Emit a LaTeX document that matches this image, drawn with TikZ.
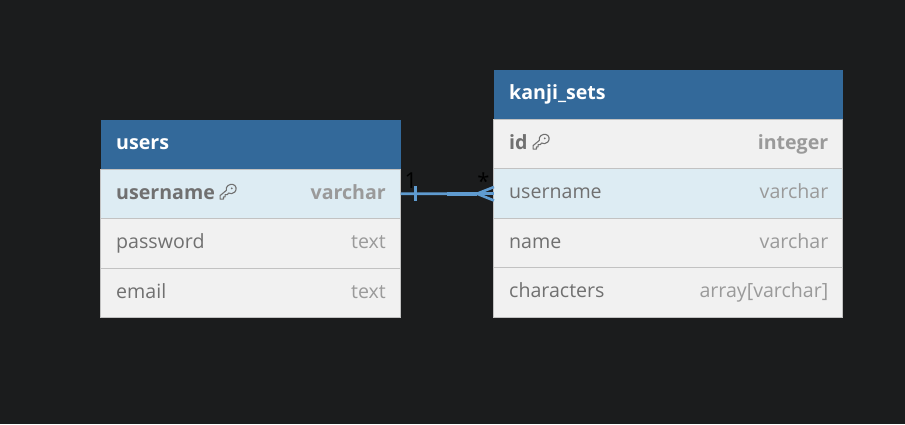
\documentclass[tikz,border=0pt]{standalone}
\usepackage{fontspec}
\setmainfont{Open Sans}
\definecolor{bgc}{HTML}{1B1C1D}
\definecolor{headc}{HTML}{33699A}
\definecolor{rowc}{HTML}{F1F1F1}
\definecolor{hlc}{HTML}{DDECF3}
\definecolor{linec}{HTML}{C2C2C2}
\definecolor{namec}{HTML}{707070}
\definecolor{typec}{HTML}{9A9A9A}
\definecolor{wirec}{HTML}{5F9BD0}
\tikzset{
  x=1pt,y=-1pt,
  cell/.style={draw=linec,line width=1pt,anchor=north west,inner sep=0pt,outer sep=0pt},
  head/.style={fill=headc,draw=none,anchor=north west,inner sep=0pt,outer sep=0pt},
  title/.style={anchor=base west,inner sep=0pt,text=white,font=\fontsize{19.6}{24}\selectfont\bfseries},
  fname/.style={anchor=base west,inner sep=0pt,text=namec,font=\fontsize{19.6}{24}\selectfont},
  fbold/.style={fname,font=\fontsize{19.6}{24}\selectfont\bfseries},
  ftype/.style={anchor=base east,inner sep=0pt,text=typec,font=\fontsize{19.6}{24}\selectfont},
  fbtype/.style={ftype,font=\fontsize{19.6}{24}\selectfont\bfseries},
  card/.style={inner sep=0pt,text=black,font=\fontsize{22}{26}\selectfont},
  wire/.style={draw=wirec,line width=2.6pt},
  wirethick/.style={draw=wirec,line width=3.6pt},
  keyicon/.pic={
    \draw[namec,line width=1.1pt,line join=round,xscale=1.13,yscale=1.02]
      (-7,7) -- (-7,3.5) -- (-1.5,-1.5) .. controls (-2.5,-6) and (2,-8) .. (4,-7.5)
      .. controls (7.5,-7) and (8,-2) .. (6,0) .. controls (4.5,2) and (2,2) .. (0.5,1)
      -- (-0.5,2.5) -- (-2.5,2.5) -- (-2.5,4.8) -- (-4,4.8) -- (-4,7) -- cycle;
    \fill[namec] (3.8,-3.6) circle (1pt);
  }
}
\begin{document}
\begin{tikzpicture}
\useasboundingbox (0,0) rectangle (905,424);
\fill[bgc] (0,0) rectangle (905,424);

% users
\node[head,minimum width=300pt,minimum height=49pt] (uh) at (100.5,120) {};
\node[cell,fill=hlc,minimum width=300pt,minimum height=49.5pt] (u1) at (100.5,169) {};
\node[cell,fill=rowc,minimum width=300pt,minimum height=49.5pt] (u2) at (100.5,218.5) {};
\node[cell,fill=rowc,minimum width=300pt,minimum height=49.5pt] (u3) at (100.5,268) {};
\node[title] (ut) at (116,149) {users};
\node[fbold] (un) at (116,199) {username};
\pic at (228,192) {keyicon};
\node[fbtype] (unt) at (386,199) {varchar};
\node[fname] (up) at (116,248) {password};
\node[ftype] (upt) at (386,248) {text};
\node[fname] (ue) at (116,298) {email};
\node[ftype] (uet) at (386,298) {text};

% kanji_sets
\node[head,minimum width=349.5pt,minimum height=49.5pt] (kh) at (493.5,70) {};
\node[cell,fill=rowc,minimum width=349pt,minimum height=49.5pt] (k1) at (493.5,119) {};
\node[cell,fill=hlc,minimum width=349pt,minimum height=49.5pt] (k2) at (493.5,168.5) {};
\node[cell,fill=rowc,minimum width=349pt,minimum height=49.5pt] (k3) at (493.5,218) {};
\node[cell,fill=rowc,minimum width=349pt,minimum height=49.5pt] (k4) at (493.5,267.5) {};
\node[title] (kt) at (509,99) {kanji\_sets};
\node[fbold] (ki) at (509,149) {id};
\pic at (541,142) {keyicon};
\node[fbtype] (kit) at (828.5,149) {integer};
\node[fname] (ku) at (509,198) {username};
\node[ftype] (kut) at (828.5,198) {varchar};
\node[fname] (kn) at (509,248) {name};
\node[ftype] (knt) at (828.5,248) {varchar};
\node[fname] (kc) at (509,297) {characters};
\node[ftype] (kct) at (828.5,297) {array[varchar]};

% connector
\coordinate (ws) at (u1.east);
\coordinate (we) at (494,193.7);
\coordinate (wm) at (447,193.7);
\coordinate (apex) at (477,193.7);
\draw[wire] (ws) -- (wm);
\draw[wirethick] (wm) -- (apex);
\draw[wire] (415.5,186) -- (415.5,200.5);
\draw[wire] (apex) -- (494,187);
\draw[wire] (apex) -- (we);
\draw[wire] (apex) -- (494,200.5);
\node[card] (c1) at (411,181) {1};
\node[card] (c2) at (483.5,181) {*};
\end{tikzpicture}
\end{document}
